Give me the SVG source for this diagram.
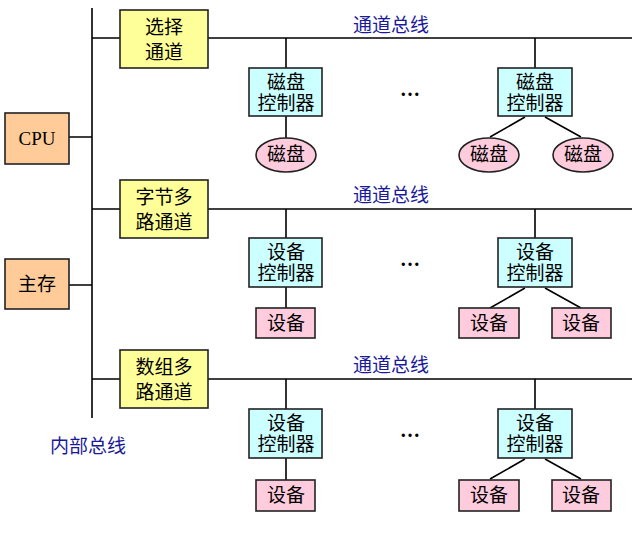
<svg xmlns="http://www.w3.org/2000/svg" width="640" height="545" viewBox="0 0 640 545">
<style>
.ln{stroke:#000;stroke-width:1.6;fill:none}
.bx{stroke:#222;stroke-width:1.6}
.ch{fill:#ffff99}
.ct{fill:#ccffff}
.dv{fill:#ffccdd}
.or{fill:#ffcc99}
text{font-family:"Liberation Serif","Noto Sans CJK SC",serif;font-size:19px;text-anchor:middle;fill:#000}
.bl{fill:#1a1a99;text-anchor:start}
.dots{font-size:20px;font-weight:bold}
</style>
<rect width="640" height="545" fill="#fff"/>
<g id="connectors">
<path class="ln" d="M92 8V418M69 137H92M69 285H92M92 38H120M92 209H120M92 379H120"/>
<path class="ln" d="M208 38H632M208 209H632M208 379H632"/>
<path class="ln" d="M286 38V68M535 38V68M286 209V238M535 209V238M286 379V409M535 379V409"/>
<path class="ln" d="M286 116V138M525 117L490 137M545 117L581 137"/>
<path class="ln" d="M286 287V308M525 288L490 308M545 288L581 308"/>
<path class="ln" d="M286 458V480M525 459L490 479M545 459L581 479"/>
</g>
<g id="cpu"><rect class="bx or" x="5" y="113" width="64" height="51"/><text x="37" y="145">CPU</text></g>
<g id="mem"><rect class="bx or" x="5" y="259" width="64" height="50"/><text x="37" y="291">主存</text></g>
<g id="label-internal"><text class="bl" x="50" y="453">内部总线</text></g>
<g id="sel"><rect class="bx ch" x="120" y="10" width="88" height="58"/><text x="164" y="34">选择</text><text x="164" y="59">通道</text></g>
<g id="label-bus1"><text class="bl" x="353" y="32">通道总线</text></g>
<g id="ctl1a"><rect class="bx ct" x="249" y="68" width="73" height="48"/><text x="286" y="89">磁盘</text><text x="286" y="110">控制器</text></g>
<g id="dots1"><text class="dots" x="410" y="96">…</text></g>
<g id="ctl1b"><rect class="bx ct" x="498" y="68" width="74" height="48"/><text x="535" y="89">磁盘</text><text x="535" y="110">控制器</text></g>
<g id="disk1"><ellipse class="bx dv" cx="286" cy="155" rx="30" ry="17"/><text x="286" y="161">磁盘</text></g>
<g id="disk2"><ellipse class="bx dv" cx="489" cy="155" rx="30" ry="17"/><text x="489" y="161">磁盘</text></g>
<g id="disk3"><ellipse class="bx dv" cx="583" cy="155" rx="30" ry="17"/><text x="583" y="161">磁盘</text></g>
<g id="byte"><rect class="bx ch" x="120" y="180" width="88" height="58"/><text x="164" y="204">字节多</text><text x="164" y="229">路通道</text></g>
<g id="label-bus2"><text class="bl" x="353" y="202">通道总线</text></g>
<g id="ctl2a"><rect class="bx ct" x="249" y="238" width="73" height="49"/><text x="286" y="259">设备</text><text x="286" y="280">控制器</text></g>
<g id="dots2"><text class="dots" x="410" y="266">…</text></g>
<g id="ctl2b"><rect class="bx ct" x="498" y="238" width="74" height="49"/><text x="535" y="259">设备</text><text x="535" y="280">控制器</text></g>
<g id="dev2a"><rect class="bx dv" x="256" y="308" width="59" height="30"/><text x="286" y="330">设备</text></g>
<g id="dev2b"><rect class="bx dv" x="459" y="308" width="60" height="30"/><text x="489" y="330">设备</text></g>
<g id="dev2c"><rect class="bx dv" x="552" y="308" width="59" height="30"/><text x="581" y="330">设备</text></g>
<g id="block"><rect class="bx ch" x="120" y="350" width="88" height="58"/><text x="164" y="374">数组多</text><text x="164" y="399">路通道</text></g>
<g id="label-bus3"><text class="bl" x="353" y="372">通道总线</text></g>
<g id="ctl3a"><rect class="bx ct" x="249" y="409" width="73" height="49"/><text x="286" y="430">设备</text><text x="286" y="451">控制器</text></g>
<g id="dots3"><text class="dots" x="410" y="437">…</text></g>
<g id="ctl3b"><rect class="bx ct" x="498" y="409" width="74" height="49"/><text x="535" y="430">设备</text><text x="535" y="451">控制器</text></g>
<g id="dev3a"><rect class="bx dv" x="256" y="480" width="59" height="31"/><text x="286" y="502">设备</text></g>
<g id="dev3b"><rect class="bx dv" x="459" y="480" width="60" height="31"/><text x="489" y="502">设备</text></g>
<g id="dev3c"><rect class="bx dv" x="552" y="480" width="59" height="31"/><text x="581" y="502">设备</text></g>
</svg>
